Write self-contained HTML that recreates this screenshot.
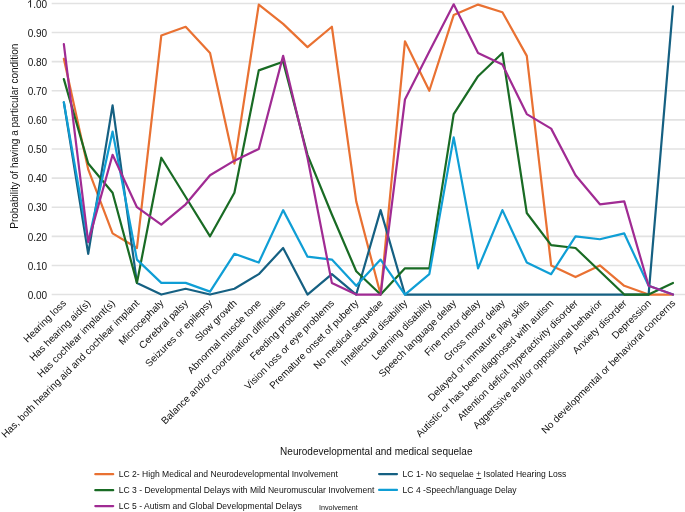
<!DOCTYPE html>
<html><head><meta charset="utf-8"><style>
html,body{margin:0;padding:0;background:#fff;}
body{width:685px;height:512px;overflow:hidden;}
svg{display:block;will-change:transform;font-family:"Liberation Sans",sans-serif;}
</style></head><body>
<svg width="685" height="512" viewBox="0 0 685 512">
<rect width="685" height="512" fill="#fff"/>
<g stroke="#E2E2E2" stroke-width="1.6"><line x1="51.7" y1="294.55" x2="685" y2="294.55"/><line x1="51.7" y1="265.44" x2="685" y2="265.44"/><line x1="51.7" y1="236.33" x2="685" y2="236.33"/><line x1="51.7" y1="207.22" x2="685" y2="207.22"/><line x1="51.7" y1="178.11" x2="685" y2="178.11"/><line x1="51.7" y1="149.00" x2="685" y2="149.00"/><line x1="51.7" y1="119.89" x2="685" y2="119.89"/><line x1="51.7" y1="90.78" x2="685" y2="90.78"/><line x1="51.7" y1="61.67" x2="685" y2="61.67"/><line x1="51.7" y1="32.56" x2="685" y2="32.56"/><line x1="51.7" y1="3.45" x2="685" y2="3.45"/></g>
<g font-size="10" fill="#111" text-anchor="end"><text x="47.2" y="298.75">0.00</text><text x="47.2" y="269.64">0.10</text><text x="47.2" y="240.53">0.20</text><text x="47.2" y="211.42">0.30</text><text x="47.2" y="182.31">0.40</text><text x="47.2" y="153.20">0.50</text><text x="47.2" y="124.09">0.60</text><text x="47.2" y="94.98">0.70</text><text x="47.2" y="65.87">0.80</text><text x="47.2" y="36.76">0.90</text><text x="47.2" y="7.65">.00</text></g>
<path d="M30.55,0.2 V7.45 M28.1,2.5 C29.3,2.0 30.0,1.3 30.4,0.3" fill="none" stroke="#222" stroke-width="1"/>
<text transform="translate(18.2,136.15) rotate(-90)" font-size="10" fill="#111" text-anchor="middle">Probability of having a particular condition</text>
<polyline fill="none" stroke="#E97132" stroke-width="2.2" stroke-linejoin="round" stroke-linecap="round" points="63.85,58.76 88.22,169.38 112.58,233.42 136.94,247.97 161.31,35.47 185.67,26.74 210.04,52.94 234.40,163.56 258.77,4.61 283.13,23.83 307.50,47.12 331.87,26.74 356.23,201.40 380.60,294.55 404.96,41.29 429.32,90.78 453.69,15.09 478.06,4.61 502.42,12.18 526.78,55.85 551.15,265.44 575.51,277.08 599.88,265.44 624.25,285.82 648.61,294.55 672.98,294.55"/>
<polyline fill="none" stroke="#156082" stroke-width="2.2" stroke-linejoin="round" stroke-linecap="round" points="63.85,102.42 88.22,253.80 112.58,105.33 136.94,282.91 161.31,294.55 185.67,288.73 210.04,294.55 234.40,288.73 258.77,274.17 283.13,247.97 307.50,294.55 331.87,274.17 356.23,294.55 380.60,210.13 404.96,294.55 429.32,294.55 453.69,294.55 478.06,294.55 502.42,294.55 526.78,294.55 551.15,294.55 575.51,294.55 599.88,294.55 624.25,294.55 648.61,294.55 672.98,6.36"/>
<polyline fill="none" stroke="#196B24" stroke-width="2.2" stroke-linejoin="round" stroke-linecap="round" points="63.85,79.14 88.22,163.56 112.58,192.67 136.94,282.91 161.31,157.73 185.67,197.03 210.04,236.33 234.40,192.67 258.77,70.40 283.13,61.67 307.50,154.82 331.87,214.50 356.23,271.26 380.60,294.55 404.96,268.35 429.32,268.35 453.69,114.07 478.06,76.22 502.42,52.94 526.78,213.04 551.15,245.06 575.51,247.97 599.88,271.26 624.25,294.55 648.61,294.55 672.98,282.91"/>
<polyline fill="none" stroke="#0F9ED5" stroke-width="2.2" stroke-linejoin="round" stroke-linecap="round" points="63.85,102.42 88.22,242.15 112.58,131.53 136.94,259.62 161.31,282.91 185.67,282.91 210.04,291.64 234.40,253.80 258.77,262.53 283.13,210.13 307.50,256.71 331.87,259.62 356.23,285.82 380.60,259.62 404.96,294.55 429.32,274.17 453.69,137.36 478.06,268.35 502.42,210.13 526.78,262.53 551.15,274.17 575.51,236.33 599.88,239.24 624.25,233.42 648.61,285.82 672.98,294.55"/>
<polyline fill="none" stroke="#A02B93" stroke-width="2.2" stroke-linejoin="round" stroke-linecap="round" points="63.85,44.20 88.22,242.15 112.58,154.82 136.94,207.22 161.31,224.69 185.67,204.31 210.04,175.20 234.40,160.64 258.77,149.00 283.13,55.85 307.50,157.73 331.87,282.91 356.23,294.55 380.60,294.55 404.96,99.51 429.32,51.48 453.69,4.32 478.06,52.94 502.42,64.58 526.78,114.07 551.15,128.62 575.51,175.20 599.88,204.31 624.25,201.40 648.61,285.82 672.98,294.55"/>
<g font-size="10" fill="#111" text-anchor="end"><text transform="translate(66.85,303.80) rotate(-45)" >Hearing loss</text><text transform="translate(91.22,303.80) rotate(-45)" >Has hearing aid(s)</text><text transform="translate(115.58,303.80) rotate(-45)" >Has cochlear implant(s)</text><text transform="translate(139.94,303.80) rotate(-45)" >Has, both hearing aid and cochlear implant</text><text transform="translate(164.31,303.80) rotate(-45)" >Microcephaly</text><text transform="translate(188.67,303.80) rotate(-45)" >Cerebral palsy</text><text transform="translate(213.04,303.80) rotate(-45)" >Seizures or epilepsy</text><text transform="translate(237.40,303.80) rotate(-45)" >Slow growth</text><text transform="translate(261.77,303.80) rotate(-45)" >Abnormal muscle tone</text><text transform="translate(286.13,303.80) rotate(-45)" >Balance and/or coordination difficulties</text><text transform="translate(310.50,303.80) rotate(-45)" >Feeding problems</text><text transform="translate(334.87,303.80) rotate(-45)" >Vision loss or eye problems</text><text transform="translate(359.23,303.80) rotate(-45)" >Premature onset of puberty</text><text transform="translate(383.60,303.80) rotate(-45)" >No medical sequelae</text><text transform="translate(407.96,303.80) rotate(-45)" >Intellectual disability</text><text transform="translate(432.32,303.80) rotate(-45)" >Learning disability</text><text transform="translate(456.69,303.80) rotate(-45)" >Speech language delay</text><text transform="translate(481.06,303.80) rotate(-45)" >Fine motor delay</text><text transform="translate(505.42,303.80) rotate(-45)" >Gross motor delay</text><text transform="translate(529.78,303.80) rotate(-45)" >Delayed or immature play skills</text><text transform="translate(554.15,303.80) rotate(-45)" >Autistic or has been diagnosed with autism</text><text transform="translate(578.51,303.80) rotate(-45)" >Attention deficit hyperactivity disorder</text><text transform="translate(602.88,303.80) rotate(-45)" >Aggerssive and/or oppositional behavior</text><text transform="translate(627.25,303.80) rotate(-45)" >Anxiety disorder</text><text transform="translate(651.61,303.80) rotate(-45)" >Depression</text><text transform="translate(675.98,303.80) rotate(-45)" >No developmental or behavioral concerns</text></g>
<text x="376.3" y="454.7" font-size="10" fill="#111" text-anchor="middle">Neurodevelopmental and medical sequelae</text>
<line x1="95.3" y1="474.2" x2="113.2" y2="474.2" stroke="#E97132" stroke-width="2.2" stroke-linecap="round"/><text x="118.8" y="477.2" font-size="8.55" fill="#111">LC 2- High Medical and Neurodevelopmental Involvement</text>
<line x1="95.3" y1="490.2" x2="113.2" y2="490.2" stroke="#196B24" stroke-width="2.2" stroke-linecap="round"/><text x="118.8" y="493.2" font-size="8.55" fill="#111">LC 3 - Developmental Delays with Mild Neuromuscular Involvement</text>
<line x1="95.3" y1="506.1" x2="113.2" y2="506.1" stroke="#A02B93" stroke-width="2.2" stroke-linecap="round"/><text x="118.8" y="509.1" font-size="8.55" fill="#111">LC 5 - Autism and Global Developmental Delays</text>
<line x1="379.1" y1="474.1" x2="397.0" y2="474.1" stroke="#156082" stroke-width="2.2" stroke-linecap="round"/><text x="402.6" y="477.1" font-size="8.55" fill="#111">LC 1- No sequelae <tspan text-decoration="underline">+</tspan> Isolated Hearing Loss</text>
<line x1="379.1" y1="489.9" x2="397.0" y2="489.9" stroke="#0F9ED5" stroke-width="2.2" stroke-linecap="round"/><text x="402.6" y="492.9" font-size="8.55" fill="#111">LC 4 -Speech/language Delay</text>
<text x="319" y="509.5" font-size="7.2" fill="#111">Involvement</text>
</svg></body></html>
